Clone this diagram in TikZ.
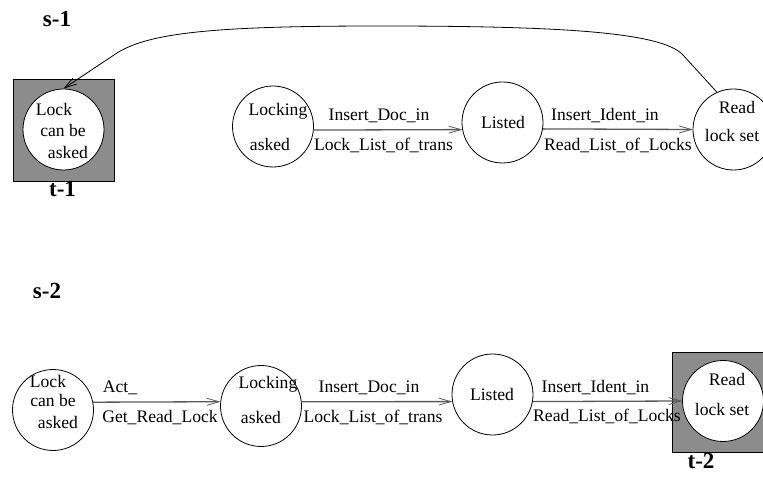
\documentclass[tikz,border=0pt]{standalone}
\usepackage{fontspec}
\setmainfont{Liberation Serif}
\usetikzlibrary{arrows.meta}
\definecolor{boxgray}{RGB}{140,140,140}
\begin{document}
\begin{tikzpicture}[x=1pt,y=-1pt,
  state/.style={circle,draw,line width=0.8pt,minimum size=81pt,inner sep=0pt,fill=white},
  txt/.style={font=\fontsize{17.6}{20}\selectfont,inner sep=0pt,text height=0.66em,text depth=0pt},
  lbl/.style={font=\fontsize{23}{26}\selectfont\bfseries,inner sep=0pt,text height=0.68em,text depth=0pt},
  arr/.style={-{Straight Barb[length=12pt,width=7pt,line width=0.8pt]},line width=1.3pt,draw=black!65},
  curv/.style={-{Straight Barb[length=12pt,width=7pt,line width=0.8pt]},line width=0.8pt,draw=black},
  final/.style={rectangle,draw,line width=0.8pt,fill=boxgray,inner sep=0pt}]
\useasboundingbox (0,0) rectangle (763,478);
\clip (0,0) rectangle (763,478);

% ---- row 1 ----
\node[lbl] (s1) at (57,23) {s-1};
\node[final,minimum width=101pt,minimum height=102pt] (f1) at (63.5,130) {};
\node[lbl] (tl1) at (62.5,193) {t-1};
\node[state] (lk1) at (63.5,129.5) {};
\node[state] (la1) at (273,126.5) {};
\node[state] (li1) at (502.5,122.5) {};
\node[state] (rd1) at (733.5,129.5) {};

\node[txt] (a1) at (54,112) {Lock};
\node[txt] (a2) at (63,133) {can be};
\node[txt] (a3) at (68,155) {asked};
\node[txt] (b1) at (278,112) {Locking};
\node[txt] (b2) at (270,147) {asked};
\node[txt] (c1) at (503,125) {Listed};
\node[txt] (d1) at (737,110) {Read};
\node[txt] (d2) at (732,138) {lock set};

\draw[arr] (la1.-5) -- (li1.190.7);
\draw[arr] (li1.-9) -- (rd1.west);
\node[txt] (e1) at (379,117) {Insert\_Doc\_in};
\node[txt] (e2) at (383.5,147) {Lock\_List\_of\_trans};
\node[txt] (e3) at (605,117) {Insert\_Ident\_in};
\node[txt] (e4) at (618,147) {Read\_List\_of\_Locks};

\draw[curv] (rd1.114) -- (683,55) .. controls (662,32) and (560,26) .. (380,26)
  .. controls (220,26) and (150,32) .. (117,53) -- (lk1.north);

% ---- row 2 ----
\node[lbl] (s2) at (47,295) {s-2};
\node[final,minimum width=102pt,minimum height=100pt] (f2) at (723,402) {};
\node[lbl] (tl2) at (701,465) {t-2};
\node[state] (lk2) at (53,410) {};
\node[state] (la2) at (261,406) {};
\node[state] (li2) at (492.5,394.5) {};
\node[state] (rd2) at (723,401) {};

\node[txt] (g1) at (48,384) {Lock};
\node[txt] (g2) at (53,403) {can be};
\node[txt] (g3) at (58,425) {asked};
\node[txt] (h1) at (268,385) {Locking};
\node[txt] (h2) at (261,420) {asked};
\node[txt] (i1) at (492,397) {Listed};
\node[txt] (j1) at (727,382) {Read};
\node[txt] (j2) at (722,412) {lock set};

\draw[arr] (lk2.11.7) -- (la2.174);
\draw[arr] (la2.6) -- (li2.190.2);
\draw[arr] (li2.-10.2) -- (rd2.west);
\node[txt] (k1) at (120,389) {Act\_};
\node[txt] (k2) at (160,419) {Get\_Read\_Lock};
\node[txt] (k3) at (369,389) {Insert\_Doc\_in};
\node[txt] (k4) at (373,419) {Lock\_List\_of\_trans};
\node[txt] (k5) at (595.5,389) {Insert\_Ident\_in};
\node[txt] (k6) at (607,418) {Read\_List\_of\_Locks};
\end{tikzpicture}
\end{document}
